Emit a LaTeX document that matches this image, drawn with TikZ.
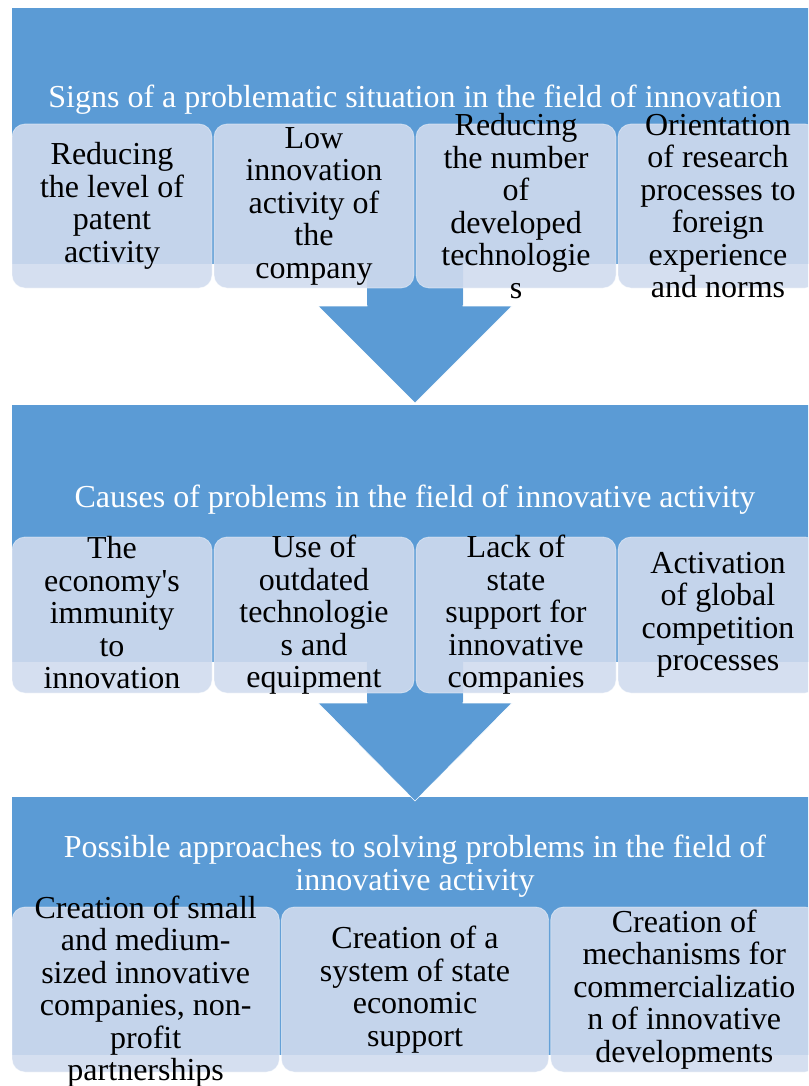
\documentclass[tikz,border=0pt]{standalone}
\usepackage{fontspec}
\setmainfont{Liberation Serif}[Ligatures=TeXOff]
\definecolor{bandblue}{HTML}{5B9BD5}
\definecolor{cellblue}{HTML}{D0DBEE}
\begin{document}
\begin{tikzpicture}[x=1pt,y=-1pt,
  band/.style={fill=bandblue, draw=none, inner sep=0pt, outer sep=0pt, anchor=north west, minimum width=806pt},
  cell/.style={fill=cellblue, fill opacity=0.9, draw=white, draw opacity=0.45, line width=0.8pt,
    rounded corners=13pt, inner sep=0pt, outer sep=0pt, minimum width=200pt},
  cellwide/.style={cell, minimum width=267.3pt},
  celltext/.style={font=\fontsize{32}{32.5}\selectfont, align=center, text=black, inner sep=0pt},
  headtext/.style={font=\fontsize{32}{32.5}\selectfont, align=center, text=white, inner sep=0pt},
  flow/.style={fill=bandblue, draw=white, line width=0.6pt, line join=miter}
]
\useasboundingbox (0,0) rectangle (808,1086);
\begin{scope}
\clip (0,0) rectangle (808,1086);

% three background bands
\node[band, minimum height=256pt] (band1) at (12,8) {};
\node[band, minimum height=257pt] (band2) at (12,405) {};
\node[band, minimum height=258pt] (band3) at (12,797) {};

% block arrows between the bands
\fill[flow] (367,264) -- (463,264) -- (463,306) -- (512,306) -- (415,403)
  -- (318,306) -- (367,306) -- cycle;
\fill[flow] (367,662) -- (463,662) -- (463,703) -- (512,703) -- (415,801)
  -- (318,703) -- (367,703) -- cycle;
\fill[bandblue] (367,262) rectangle (463,305);
\fill[bandblue] (367,660) rectangle (463,702);

% headings
\node[headtext, anchor=base] (h1) at (415,108)
  {Signs of a problematic situation in the field of innovation};
\node[headtext, anchor=base] (h2) at (415,507)
  {Causes of problems in the field of innovative activity};
\node[headtext] (h3) at (415,866)
  {Possible approaches to solving problems in the field of\\innovative activity};

% first row: signs
\node[cell, minimum height=164pt] (s1) at (112,206) {};
\node[cell, minimum height=164pt] (s2) at (314,206) {};
\node[cell, minimum height=164pt] (s3) at (516,206) {};
\node[cell, minimum height=164pt] (s4) at (718,206) {};
\node[celltext] (s1t) at (s1.center) {Reducing\\the level of\\patent\\activity};
\node[celltext] (s2t) at (s2.center) {Low\\innovation\\activity of\\the\\company};
\node[celltext] (s3t) at (s3.center) {Reducing\\the number\\of\\developed\\technologie\\s};
\node[celltext] (s4t) at (s4.center) {Orientation\\of research\\processes to\\foreign\\experience\\and norms};

% second row: causes
\node[cell, minimum height=156pt] (c1) at (112,615) {};
\node[cell, minimum height=156pt] (c2) at (314,615) {};
\node[cell, minimum height=156pt] (c3) at (516,615) {};
\node[cell, minimum height=156pt] (c4) at (718,615) {};
\node[celltext] (c1t) at ([yshift=2pt]c1.center) {The\\economy's\\immunity\\to\\innovation};
\node[celltext] (c2t) at (c2.center) {Use of\\outdated\\technologie\\s and\\equipment};
\node[celltext] (c3t) at (c3.center) {Lack of\\state\\support for\\innovative\\companies};
\node[celltext] (c4t) at (c4.center) {Activation\\of global\\competition\\processes};

% third row: approaches
\node[cellwide, minimum height=165pt] (a1) at (145.7,989.5) {};
\node[cellwide, minimum height=165pt] (a2) at (415,989.5) {};
\node[cellwide, minimum height=165pt] (a3) at (684.3,989.5) {};
\node[celltext] (a1t) at ([yshift=-2pt]a1.center) {Creation of small\\and medium-\\sized innovative\\companies, non-\\profit\\partnerships};
\node[celltext] (a2t) at (a2.center) {Creation of a\\system of state\\economic\\support};
\node[celltext] (a3t) at (a3.center) {Creation of\\mechanisms for\\commercializatio\\n of innovative\\developments};
\end{scope}
\end{tikzpicture}
\end{document}
